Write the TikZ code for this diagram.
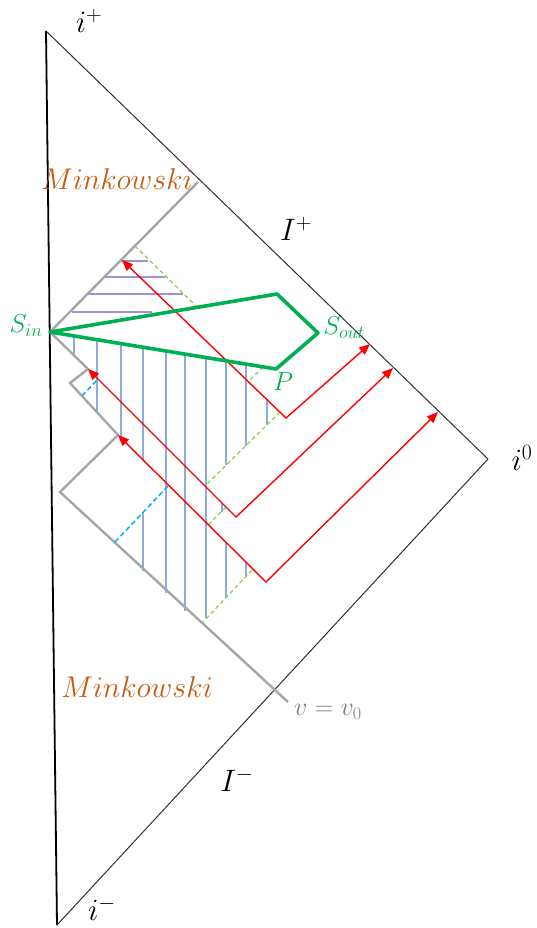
\documentclass[tikz,border=0pt]{standalone}
\usepackage{fix-cm}
\usetikzlibrary{arrows.meta}
\definecolor{grn}{HTML}{00B050}
\definecolor{lgrn}{HTML}{92D050}
\definecolor{cyn}{HTML}{00B0F0}
\definecolor{org}{HTML}{C55A11}
\definecolor{gry}{HTML}{A6A6A6}
\definecolor{dgry}{HTML}{7F7F7F}
\definecolor{hblue}{HTML}{8FAADC}
\definecolor{hpurp}{HTML}{A58ED2}
\definecolor{edge}{HTML}{303030}
\tikzset{
  bnd/.style={edge, line width=1pt},
  shell/.style={gry, line width=2.4pt, line join=miter},
  ray/.style={red, line width=1.4pt, {Triangle[length=11pt,width=9pt]}-{Triangle[length=11pt,width=9pt]}},
  surf/.style={grn, line width=3.6pt, line join=round},
  hor/.style={lgrn, line width=1.3pt, dash pattern=on 4pt off 3pt},
  cdash/.style={cyn, line width=1.5pt, dash pattern=on 5pt off 3pt},
  vh/.style={hblue, line width=1.6pt},
  hh/.style={hpurp, line width=1.6pt},
  lab/.style={font=\fontsize{26}{28}\selectfont, inner sep=0pt},
  biglab/.style={font=\fontsize{31}{34}\selectfont, inner sep=0pt},
  mink/.style={org, font=\fontsize{30}{33}\selectfont, inner sep=0pt},
}
\begin{document}
\begin{tikzpicture}[x=1pt,y=-1pt]
\useasboundingbox (0,0) rectangle (536,928);
% corners of the diagram
\coordinate (ip) at (46,31);
\coordinate (im) at (57,925);
\coordinate (i0) at (488,459);
\draw[black, line width=1.8pt] (ip) -- (im);
\draw[bnd] (ip) -- (i0);
\draw[bnd] (im) -- (i0);
% hatching (blue vertical)
\draw[vh] (74,336) -- (74,356);
\draw[vh] (97,340) -- (97,412);
\draw[vh] (121,344) -- (121,437);
\draw[vh] (143,347) -- (143,460);
\draw[vh] (143,512) -- (143,571);
\draw[vh] (166,351) -- (166,593);
\draw[vh] (185,354) -- (185,611);
\draw[vh] (206,358) -- (206,618);
\draw[vh] (226,361) -- (226,465);
\draw[vh] (222,503) -- (222,512);
\draw[vh] (226,542) -- (226,597);
\draw[vh] (246,364) -- (246,446);
\draw[vh] (246,562) -- (246,576);
\draw[vh] (267,400) -- (267,425);
% hatching (purple horizontal)
\draw[hh] (121,261) -- (148,261);
\draw[hh] (105,277) -- (165,277);
\draw[hh] (88,294) -- (183,294);
\draw[hh] (72,312) -- (152,312);
% gray shell boundary
\coordinate (g0) at (198,182);
\coordinate (sin) at (50,332);
\coordinate (g2) at (88,369);
\coordinate (g3) at (70,383);
\coordinate (g4) at (118,435);
\coordinate (g5) at (60,492);
\coordinate (g6) at (288,702);
\draw[shell] (g0) -- (sin) -- (g2) -- (g3) -- (g4) -- (g5) -- (g6);
% horizon pieces (light green dashed)
\draw[hor] (135,246) -- (197,307);
\draw[hor] (263,367) -- (248,382);
\draw[hor] (280,412) -- (205,486);
\draw[hor] (226,507) -- (208,525);
\draw[hor] (252,570) -- (203,622);
% cyan dashed
\draw[cdash] (82,396) -- (97,380);
\draw[cdash] (115,542) -- (168,486);
% red rays
\coordinate (r1a) at (122,260); \coordinate (r1v) at (286,418); \coordinate (r1b) at (370,344);
\coordinate (r2a) at (88,369);  \coordinate (r2v) at (236,517); \coordinate (r2b) at (393,368);
\coordinate (r3a) at (118,435); \coordinate (r3v) at (266,582); \coordinate (r3b) at (438,412);
\draw[ray] (r1a) -- (r1v) -- (r1b);
\draw[ray] (r2a) -- (r2v) -- (r2b);
\draw[ray] (r3a) -- (r3v) -- (r3b);
% green surface
\coordinate (stop) at (277,294);
\coordinate (sout) at (318,333);
\coordinate (pp) at (276,369);
\draw[surf] (sin) -- (stop) -- (sout) -- (pp) -- cycle;
% labels
\node[biglab] (Lip) at (89,21) {$i^{+}$};
\node[biglab] (Lim) at (102,909) {$i^{-}$};
\node[biglab] (Li0) at (522,458) {$i^{0}$};
\node[biglab] (LIp) at (296,229) {$I^{+}$};
\node[biglab] (LIm) at (237,780) {$I^{-}$};
\node[mink] (Mk1) at (117,179) {$Minkowski$};
\node[mink] (Mk2) at (137,687) {$Minkowski$};
\node[lab, grn] (Lsin) at (26,326) {$S_{in}$};
\node[lab, grn] (Lsout) at (344,328) {$S_{out}$};
\node[lab, grn] (Lp) at (283,382) {$P$};
\node[lab, dgry] (Lv) at (328,712) {$v=v_0$};
\end{tikzpicture}
\end{document}
